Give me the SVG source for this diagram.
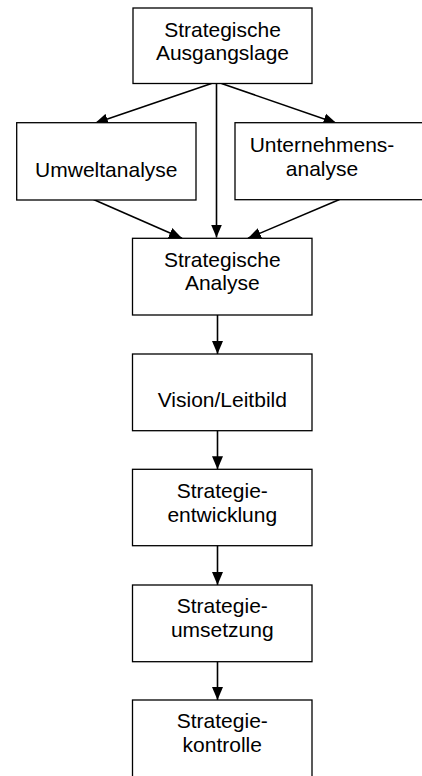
<svg xmlns="http://www.w3.org/2000/svg" width="422" height="776" viewBox="0 0 422 776">
<style>
.box{fill:#fff;stroke:#000;stroke-width:1.3}
.t{font-family:"Liberation Sans",Arial,sans-serif;font-size:21px;fill:#000;text-anchor:middle}
.c{stroke:#000;stroke-width:1.6;fill:none;marker-end:url(#ah)}
</style>
<defs>
<marker id="ah" markerUnits="userSpaceOnUse" markerWidth="14" markerHeight="12" refX="13" refY="5.5" orient="auto" viewBox="0 0 14 11">
<path d="M0,0 L13,5.5 L0,11 Z" fill="#000"/>
</marker>
</defs>
<g id="connectors">
<line class="c" x1="211.5" y1="83.5" x2="95" y2="123.3"/>
<line class="c" x1="216.5" y1="83.5" x2="216.5" y2="237.5"/>
<line class="c" x1="221.5" y1="83.5" x2="336.5" y2="123.3"/>
<line class="c" x1="93.5" y1="199.5" x2="182" y2="238.3"/>
<line class="c" x1="339.5" y1="199.5" x2="248" y2="238.3"/>
<line class="c" x1="217.5" y1="315" x2="217.5" y2="354"/>
<line class="c" x1="217.5" y1="430.7" x2="217.5" y2="469.3"/>
<line class="c" x1="217.5" y1="545.7" x2="217.5" y2="585"/>
<line class="c" x1="217.5" y1="661.7" x2="217.5" y2="700"/>
</g>
<g id="n1"><rect class="box" x="133" y="8" width="179" height="75.5"/><text class="t" x="222.5" y="37.3">Strategische</text><text class="t" x="222.5" y="60.3">Ausgangslage</text></g>
<g id="n2"><rect class="box" x="16.7" y="122.7" width="179.3" height="77.3"/><text class="t" x="106.3" y="176.5">Umweltanalyse</text></g>
<g id="n3"><rect class="box" x="235" y="122.7" width="190" height="77"/><text class="t" x="322" y="152">Unternehmens-</text><text class="t" x="322" y="175.5">analyse</text></g>
<g id="n4"><rect class="box" x="132.5" y="238.3" width="179.5" height="76.7"/><text class="t" x="222.3" y="266.7">Strategische</text><text class="t" x="222.3" y="290">Analyse</text></g>
<g id="n5"><rect class="box" x="132.5" y="354" width="179.5" height="76.7"/><text class="t" x="222.3" y="406.5">Vision/Leitbild</text></g>
<g id="n6"><rect class="box" x="132.5" y="469.3" width="179.5" height="76.4"/><text class="t" x="222.3" y="498.3">Strategie-</text><text class="t" x="222.3" y="521.7">entwicklung</text></g>
<g id="n7"><rect class="box" x="132.5" y="585" width="179.5" height="76.7"/><text class="t" x="222.3" y="613.3">Strategie-</text><text class="t" x="222.3" y="636.7">umsetzung</text></g>
<g id="n8"><rect class="box" x="132.5" y="700" width="179.5" height="80"/><text class="t" x="222.3" y="728.3">Strategie-</text><text class="t" x="222.3" y="751.7">kontrolle</text></g>
</svg>
